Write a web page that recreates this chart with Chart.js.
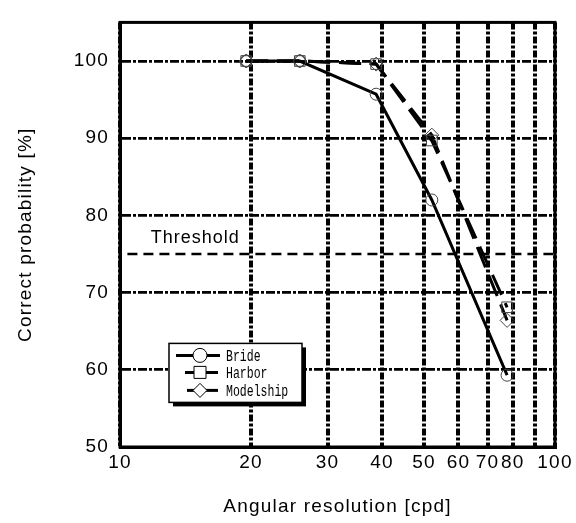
<!DOCTYPE html>
<html>
<head>
<meta charset="utf-8">
<script src="https://cdn.jsdelivr.net/npm/chart.js@4"></script>
<style>
  html, body { margin: 0; padding: 0; background: #fff; }
  #wrap { width: 576px; height: 523px; }
</style>
</head>
<body>
<div id="wrap"><canvas id="chart" width="576" height="523"></canvas></div>
<script>
// angular resolution of each test condition [cpd]
const resolution = [19.5, 25.9, 38.8, 52.1, 77.6];
// correct probability [%] per image
const bride = [100, 100, 95.7, 82.0, 59.3];
const harbor = [100, 100, 99.6, 89.7, 68.1];
const modelship = [100, 100, 99.6, 90.4, 66.4];

const thresholdLevel = 75;
const thresholdFrom = 10.4;
const thresholdTo = 100;

const xTicks = [10, 20, 30, 40, 50, 60, 70, 80, 90, 100];
const xTickLabels = ['10', '20', '30', '40', '50', '60', '70', '80', '', '100'];
const yTicks = [50, 60, 70, 80, 90, 100];

const toPoints = ys => resolution.map((x, i) => ({ x, y: ys[i] }));

const FONT = "'Liberation Sans', Arial, sans-serif";
const MONO = "'Liberation Mono', 'DejaVu Sans Mono', monospace";

// draw a small marker (used by the in-plot legend)
function marker(ctx, shape, x, y) {
  ctx.beginPath();
  if (shape === 'circle') ctx.arc(x, y, 7, 0, Math.PI * 2);
  if (shape === 'square') ctx.rect(x - 6, y - 6, 12, 12);
  if (shape === 'diamond') {
    ctx.moveTo(x, y - 7); ctx.lineTo(x + 7, y);
    ctx.lineTo(x, y + 7); ctx.lineTo(x - 7, y); ctx.closePath();
  }
  ctx.fillStyle = '#fff';
  ctx.fill();
  ctx.lineWidth = 1;
  ctx.strokeStyle = '#000';
  ctx.stroke();
}

const legendItems = [
  { label: 'Bride', shape: 'circle', from: 7, to: 51 },
  { label: 'Harbor', shape: 'square', from: 16, to: 49 },
  { label: 'Modelship', shape: 'diamond', from: 18, to: 49 }
];

const decorations = {
  id: 'decorations',
  beforeDraw(chart) {
    chart.ctx.letterSpacing = '1.2px';
  },
  afterDraw(chart) {
    const { ctx, chartArea: a, scales } = chart;
    ctx.save();

    // frame
    ctx.lineWidth = 3;
    ctx.strokeStyle = '#000';
    ctx.setLineDash([]);
    ctx.strokeRect(a.left, a.top, a.right - a.left, a.bottom - a.top);

    // threshold label
    ctx.fillStyle = '#000';
    ctx.font = '18px ' + FONT;
    ctx.letterSpacing = '1px';
    ctx.textAlign = 'center';
    ctx.textBaseline = 'middle';
    ctx.fillText('Threshold', scales.x.getPixelForValue(14.9), scales.y.getPixelForValue(77.1));

    // legend box
    const bx = a.left + 49, by = a.top + 321, bw = 133, bh = 59;
    ctx.fillStyle = '#000';
    ctx.fillRect(bx + 4, by + 4, bw, bh);
    ctx.fillStyle = '#fff';
    ctx.fillRect(bx, by, bw, bh);
    ctx.lineWidth = 1.5;
    ctx.strokeRect(bx, by, bw, bh);

    const rows = [12, 29, 47];
    legendItems.forEach((item, i) => {
      const y = by + rows[i];
      ctx.lineWidth = 3;
      ctx.strokeStyle = '#000';
      ctx.beginPath();
      ctx.moveTo(bx + item.from, y);
      ctx.lineTo(bx + item.to, y);
      ctx.stroke();
      marker(ctx, item.shape, bx + 31, y);

      ctx.save();
      ctx.letterSpacing = '0px';
      ctx.translate(bx + 57, y + 1);
      ctx.scale(0.72, 1);
      ctx.font = '16px ' + MONO;
      ctx.fillStyle = '#000';
      ctx.textAlign = 'left';
      ctx.textBaseline = 'middle';
      ctx.fillText(item.label, 0, 0);
      ctx.restore();
    });

    ctx.restore();
  }
};

const lineStyle = {
  borderColor: '#000',
  borderWidth: 3,
  pointBorderColor: '#444',
  pointBorderWidth: 1,
  pointBackgroundColor: 'rgba(255,255,255,0)',
  fill: false,
  tension: 0
};

new Chart(document.getElementById('chart'), {
  type: 'line',
  data: {
    datasets: [
      {
        label: 'Threshold',
        data: [{ x: thresholdFrom, y: thresholdLevel }, { x: thresholdTo, y: thresholdLevel }],
        borderColor: '#000',
        borderWidth: 2.5,
        borderDash: [10, 6],
        pointRadius: 0
      },
      { ...lineStyle, label: 'Bride', data: toPoints(bride), pointStyle: 'circle', pointRadius: 6 },
      { ...lineStyle, label: 'Harbor', data: toPoints(harbor), borderDash: [22, 9], pointStyle: 'rect', pointRadius: 7.5 },
      { ...lineStyle, label: 'Modelship', data: toPoints(modelship), borderDash: [22, 9], pointStyle: 'rectRot', pointRadius: 7 }
    ]
  },
  options: {
    responsive: false,
    animation: false,
    layout: { padding: { left: 0, right: 21, top: 14, bottom: 0 } },
    plugins: { legend: { display: false }, tooltip: { enabled: false } },
    scales: {
      x: {
        type: 'logarithmic',
        min: 10,
        max: 100,
        afterBuildTicks: s => { s.ticks = xTicks.map(v => ({ value: v })); },
        afterFit: s => { s.height = 76; },
        ticks: {
          autoSkip: false,
          maxRotation: 0,
          padding: 4,
          color: '#000',
          font: { family: FONT, size: 19 },
          callback: (v, i) => xTickLabels[i]
        },
        grid: { color: '#000', lineWidth: 4, drawTicks: false },
        border: { color: '#000', width: 3, dash: [7, 2, 3, 2] },
        title: {
          display: true,
          text: 'Angular resolution [cpd]',
          color: '#000',
          font: { family: FONT, size: 19 },
          padding: { top: 0, bottom: 5 }
        }
      },
      y: {
        min: 50,
        max: 105,
        afterBuildTicks: s => { s.ticks = yTicks.map(v => ({ value: v })); },
        afterFit: s => { s.width = 120; },
        ticks: {
          padding: 11,
          color: '#000',
          font: { family: FONT, size: 19 }
        },
        grid: { color: '#000', lineWidth: 2.7, drawTicks: false },
        border: { color: '#000', width: 3, dash: [9, 2, 3, 2] },
        title: {
          display: true,
          text: 'Correct probability [%]',
          color: '#000',
          font: { family: FONT, size: 19 },
          padding: { top: 14, bottom: 0 }
        }
      }
    }
  },
  plugins: [decorations]
});
</script>
</body>
</html>
